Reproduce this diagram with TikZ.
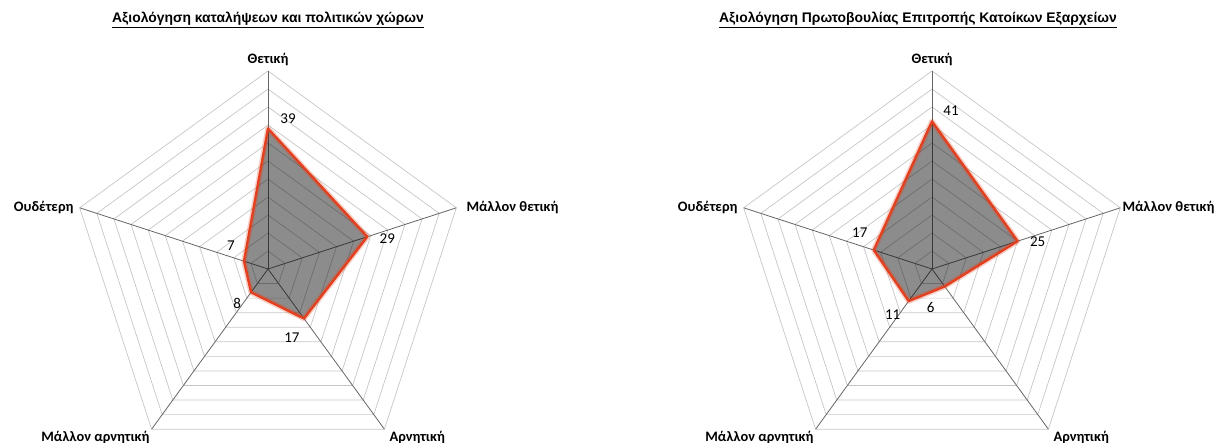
\documentclass[tikz,border=0pt]{standalone}
\usepackage{fontspec}
\setmainfont{Carlito}
\newfontfamily\titlefont{Liberation Sans}
\usepackage{tikz}
\usetikzlibrary{positioning}
\definecolor{ringgray}{HTML}{C6C6C6}
\definecolor{axisgray}{HTML}{666666}
\definecolor{serieline}{HTML}{E2401E}
\tikzset{
  ring/.style={draw=ringgray, line width=0.7pt},
  spoke/.style={draw=axisgray, line width=0.8pt},
  seriefill/.style={fill=black, fill opacity=0.45},
  serieglow/.style={draw=serieline, line width=5.5pt, draw opacity=0.25, line join=round},
  serie/.style={draw=serieline, line width=2.4pt, line join=round},
  axislbl/.style={font=\fontsize{14.4}{16}\selectfont\bfseries, inner sep=2pt},
  vallbl/.style={font=\fontsize{15}{17}\selectfont, inner sep=0pt},
  charttitle/.style={font=\titlefont\fontsize{13.9}{16}\selectfont\bfseries}
}

\begin{document}
\begin{tikzpicture}
\useasboundingbox (0,0) rectangle (1219pt,443pt);
\node[charttitle] (titleL) at (268pt,423pt) {\underline{Αξιολόγηση καταλήψεων και πολιτικών χώρων}};
\node[charttitle] (titleR) at (918pt,423pt) {\underline{Αξιολόγηση Πρωτοβουλίας Επιτροπής Κατοίκων Εξαρχείων}};

\begin{scope}[x=3.6pt, y=3.6pt, shift={(268pt,174pt)}]
\coordinate (cL) at (0,0);
\coordinate (aL1) at (90:55);
\coordinate (aL2) at (18:55);
\coordinate (aL3) at (-54:55);
\coordinate (aL4) at (-126:55);
\coordinate (aL5) at (162:55);
\draw[ring] (90:5) -- (18:5) -- (-54:5) -- (-126:5) -- (162:5) -- cycle;
\draw[ring] (90:10) -- (18:10) -- (-54:10) -- (-126:10) -- (162:10) -- cycle;
\draw[ring] (90:15) -- (18:15) -- (-54:15) -- (-126:15) -- (162:15) -- cycle;
\draw[ring] (90:20) -- (18:20) -- (-54:20) -- (-126:20) -- (162:20) -- cycle;
\draw[ring] (90:25) -- (18:25) -- (-54:25) -- (-126:25) -- (162:25) -- cycle;
\draw[ring] (90:30) -- (18:30) -- (-54:30) -- (-126:30) -- (162:30) -- cycle;
\draw[ring] (90:35) -- (18:35) -- (-54:35) -- (-126:35) -- (162:35) -- cycle;
\draw[ring] (90:40) -- (18:40) -- (-54:40) -- (-126:40) -- (162:40) -- cycle;
\draw[ring] (90:45) -- (18:45) -- (-54:45) -- (-126:45) -- (162:45) -- cycle;
\draw[ring] (90:50) -- (18:50) -- (-54:50) -- (-126:50) -- (162:50) -- cycle;
\draw[ring] (aL1) -- (aL2) -- (aL3) -- (aL4) -- (aL5) -- cycle;
\draw[spoke] (cL) -- (aL1);
\draw[spoke] (cL) -- (aL2);
\draw[spoke] (cL) -- (aL3);
\draw[spoke] (cL) -- (aL4);
\draw[spoke] (cL) -- (aL5);
\node[axislbl, above=3pt of aL1] (lblL1) {Θετική};
\node[axislbl, right=8pt of aL2] (lblL2) {Μάλλον θετική};
\node[axislbl, anchor=north west, xshift=3pt] (lblL3) at (aL3) {Αρνητική};
\node[axislbl, anchor=north east] (lblL4) at (aL4) {Μάλλον αρνητική};
\node[axislbl, left=4pt of aL5] (lblL5) {Ουδέτερη};
\coordinate (pL1) at (90:39);
\coordinate (pL2) at (18:29);
\coordinate (pL3) at (-54:17);
\coordinate (pL4) at (-126:8);
\coordinate (pL5) at (162:7);
\fill[seriefill] (pL1) -- (pL2) -- (pL3) -- (pL4) -- (pL5) -- cycle;
\draw[serieglow] (pL1) -- (pL2) -- (pL3) -- (pL4) -- (pL5) -- cycle;
\draw[serie] (pL1) -- (pL2) -- (pL3) -- (pL4) -- (pL5) -- cycle;
\node[vallbl, xshift=20pt, yshift=10pt] (vL1) at (pL1) {39};
\node[vallbl, xshift=20pt, yshift=-2pt] (vL2) at (pL2) {29};
\node[vallbl, xshift=-12pt, yshift=-19pt] (vL3) at (pL3) {17};
\node[vallbl, xshift=-14pt, yshift=-11pt] (vL4) at (pL4) {8};
\node[vallbl, xshift=-13pt, yshift=16pt] (vL5) at (pL5) {7};
\end{scope}

\begin{scope}[x=3.6pt, y=3.6pt, shift={(932pt,174pt)}]
\coordinate (cR) at (0,0);
\coordinate (aR1) at (90:55);
\coordinate (aR2) at (18:55);
\coordinate (aR3) at (-54:55);
\coordinate (aR4) at (-126:55);
\coordinate (aR5) at (162:55);
\draw[ring] (90:5) -- (18:5) -- (-54:5) -- (-126:5) -- (162:5) -- cycle;
\draw[ring] (90:10) -- (18:10) -- (-54:10) -- (-126:10) -- (162:10) -- cycle;
\draw[ring] (90:15) -- (18:15) -- (-54:15) -- (-126:15) -- (162:15) -- cycle;
\draw[ring] (90:20) -- (18:20) -- (-54:20) -- (-126:20) -- (162:20) -- cycle;
\draw[ring] (90:25) -- (18:25) -- (-54:25) -- (-126:25) -- (162:25) -- cycle;
\draw[ring] (90:30) -- (18:30) -- (-54:30) -- (-126:30) -- (162:30) -- cycle;
\draw[ring] (90:35) -- (18:35) -- (-54:35) -- (-126:35) -- (162:35) -- cycle;
\draw[ring] (90:40) -- (18:40) -- (-54:40) -- (-126:40) -- (162:40) -- cycle;
\draw[ring] (90:45) -- (18:45) -- (-54:45) -- (-126:45) -- (162:45) -- cycle;
\draw[ring] (90:50) -- (18:50) -- (-54:50) -- (-126:50) -- (162:50) -- cycle;
\draw[ring] (aR1) -- (aR2) -- (aR3) -- (aR4) -- (aR5) -- cycle;
\draw[spoke] (cR) -- (aR1);
\draw[spoke] (cR) -- (aR2);
\draw[spoke] (cR) -- (aR3);
\draw[spoke] (cR) -- (aR4);
\draw[spoke] (cR) -- (aR5);
\node[axislbl, above=3pt of aR1] (lblR1) {Θετική};
\node[axislbl, right=1pt of aR2, inner sep=1pt] (lblR2) {Μάλλον θετική};
\node[axislbl, anchor=north west, xshift=3pt] (lblR3) at (aR3) {Αρνητική};
\node[axislbl, anchor=north east] (lblR4) at (aR4) {Μάλλον αρνητική};
\node[axislbl, left=4pt of aR5] (lblR5) {Ουδέτερη};
\coordinate (pR1) at (90:41);
\coordinate (pR2) at (18:25);
\coordinate (pR3) at (-54:6);
\coordinate (pR4) at (-126:11);
\coordinate (pR5) at (162:17);
\fill[seriefill] (pR1) -- (pR2) -- (pR3) -- (pR4) -- (pR5) -- cycle;
\draw[serieglow] (pR1) -- (pR2) -- (pR3) -- (pR4) -- (pR5) -- cycle;
\draw[serie] (pR1) -- (pR2) -- (pR3) -- (pR4) -- (pR5) -- cycle;
\node[vallbl, xshift=19pt, yshift=11pt] (vR1) at (pR1) {41};
\node[vallbl, xshift=20pt, yshift=-1pt] (vR2) at (pR2) {25};
\node[vallbl, xshift=-14pt, yshift=-21pt] (vR3) at (pR3) {6};
\node[vallbl, xshift=-16pt, yshift=-14pt] (vR4) at (pR4) {11};
\node[vallbl, xshift=-14pt, yshift=17pt] (vR5) at (pR5) {17};
\end{scope}
\end{tikzpicture}
\end{document}
